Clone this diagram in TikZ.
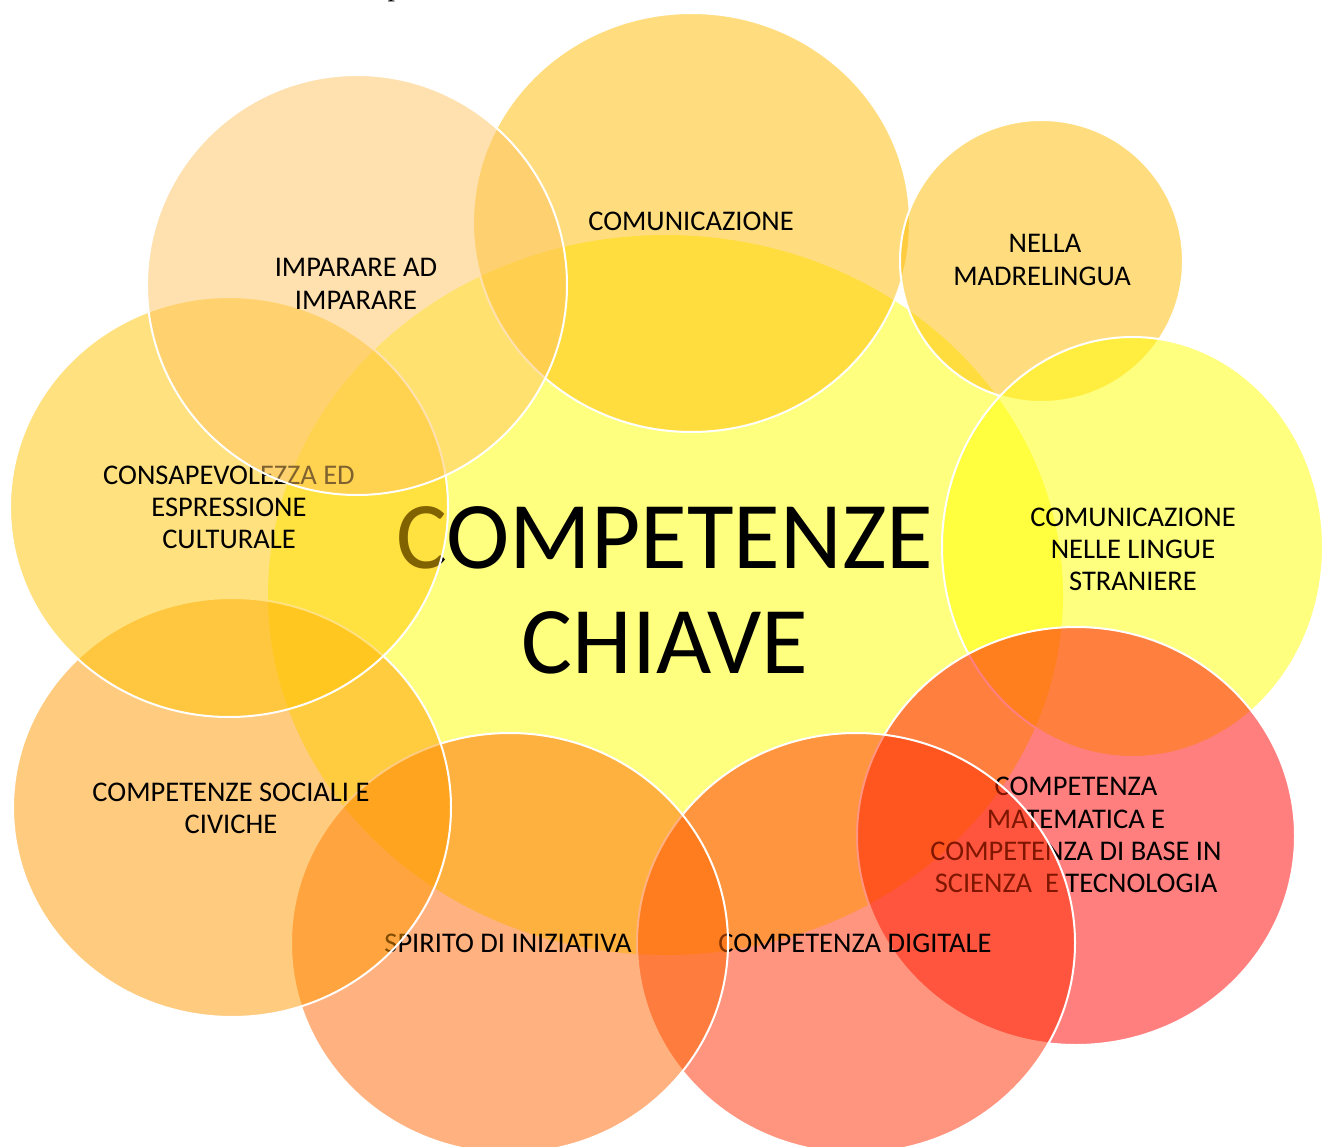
\documentclass[tikz,border=0pt]{standalone}
\usepackage{fontspec}
\setmainfont{Carlito}
\newfontfamily\serifp{Liberation Serif}
\definecolor{cyel}{HTML}{FFFF00}
\definecolor{cgold}{HTML}{FFBC00}
\definecolor{ccons}{HTML}{FFC400}
\definecolor{cimp}{HTML}{FFC561}
\definecolor{cred}{HTML}{FF0000}
\definecolor{cdig}{HTML}{FF2D00}
\definecolor{cspir}{HTML}{FF6500}
\definecolor{csoc}{HTML}{FF9900}
\begin{document}
\begin{tikzpicture}[x=1pt,y=-1pt]
\tikzset{
  circ/.style={draw=white, line width=2pt, fill opacity=0.5},
  lbl/.style={font=\fontsize{28.5}{32}\selectfont, anchor=base, inner sep=0pt, text=black},
  big/.style={font=\fontsize{95.5}{105}\selectfont, anchor=base, inner sep=0pt, text=black}
}
\useasboundingbox (0,0) rectangle (1329,1147);
\begin{scope}
\clip (0,0) rectangle (1329,1147);
\fill[white] (0,0) rectangle (1329,1147);
\node[font=\serifp\fontsize{30}{34}\selectfont, anchor=base, inner sep=0pt] (frag) at (395,-4) {p};
% central ellipse
\fill[cyel, fill opacity=0.5] (665.5,595) ellipse [x radius=397.5pt, y radius=360pt];
\node[big] (k1) at (665,568) {COMPETENZE};
\node[big] (k2) at (665,673) {CHIAVE};
% comunicazione
\filldraw[circ, fill=cgold] (691.5,222.5) ellipse [x radius=218.5pt, y radius=209.5pt];
\node[lbl] (com) at (691,231) {COMUNICAZIONE};
% madrelingua
\filldraw[circ, fill=cgold] (1041.5,261) ellipse [x radius=141.5pt, y radius=141pt];
\node[lbl] (ml1) at (1045,253) {NELLA};
\node[lbl] (ml2) at (1042,286) {MADRELINGUA};
% lingue straniere
\filldraw[circ, fill=cyel] (1132.5,547) ellipse [x radius=190.5pt, y radius=210pt];
\node[lbl] (ls1) at (1133,526) {COMUNICAZIONE};
\node[lbl] (ls2) at (1133,558) {NELLE LINGUE};
\node[lbl] (ls3) at (1133,590) {STRANIERE};
% matematica
\filldraw[circ, fill=cred] (1076,836) ellipse [x radius=219pt, y radius=209pt];
\node[lbl] (ma1) at (1076,795) {COMPETENZA};
\node[lbl] (ma2) at (1076,828) {MATEMATICA E};
\node[lbl] (ma3) at (1076,860) {COMPETENZA DI BASE IN};
\node[lbl] (ma4) at (1076,892) {SCIENZA\ \ E TECNOLOGIA};
% digitale
\filldraw[circ, fill=cdig] (856,943) ellipse [x radius=219pt, y radius=210pt];
\node[lbl] (dg) at (855,952) {COMPETENZA DIGITALE};
% spirito
\filldraw[circ, fill=cspir] (509.5,943) ellipse [x radius=218.5pt, y radius=210pt];
\node[lbl] (sp) at (508,952) {SPIRITO DI INIZIATIVA};
% sociali
\filldraw[circ, fill=csoc] (232,807.5) ellipse [x radius=219pt, y radius=209.5pt];
\node[lbl] (so1) at (231,801) {COMPETENZE SOCIALI E};
\node[lbl] (so2) at (231,833) {CIVICHE};
% consapevolezza
\filldraw[circ, fill=ccons] (229,507) ellipse [x radius=219pt, y radius=210pt];
\node[lbl] (cs1) at (229,484) {CONSAPEVOLEZZA ED};
\node[lbl] (cs2) at (229,516) {ESPRESSIONE};
\node[lbl] (cs3) at (229,548) {CULTURALE};
% imparare
\filldraw[circ, fill=cimp] (357,285) ellipse [x radius=210pt, y radius=210pt];
\node[lbl] (im1) at (356,277) {IMPARARE AD};
\node[lbl] (im2) at (356,309) {IMPARARE};
\end{scope}
\end{tikzpicture}
\end{document}
